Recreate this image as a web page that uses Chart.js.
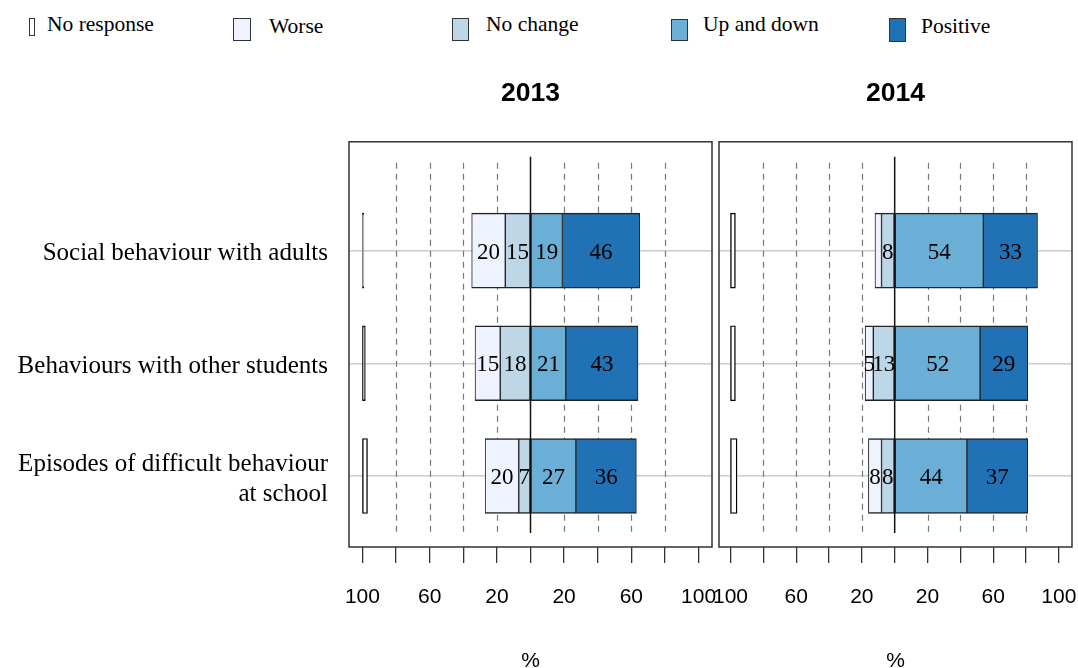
<!DOCTYPE html>
<html>
<head>
<meta charset="utf-8">
<script src="https://cdn.jsdelivr.net/npm/chart.js@4.4.1/dist/chart.umd.min.js"></script>
<style>
  html, body { margin: 0; padding: 0; background: #fff; overflow: hidden; }
  #wrap { position: relative; width: 1078px; height: 668px; overflow: hidden; }
  canvas { position: absolute; top: 0; }
  #c2013 { left: 0; }
  #c2014 { left: 700px; }
  .swatch { position: absolute; border: 1.5px solid #333; box-sizing: border-box; }
  .keyText { position: absolute; font-family: 'Liberation Serif', serif; font-size: 21.5px; line-height: 1; white-space: nowrap; color: #000; }
</style>
</head>
<body>
<div id="wrap">
  <div id="legend"></div>
  <canvas id="c2013" width="720" height="690"></canvas>
  <canvas id="c2014" width="378" height="690"></canvas>
</div>
<script>
const years = ['2013', '2014'];

// answer categories, in drawing order (left to right)
const categories = ['No response', 'Worse', 'No change', 'Up and down', 'Positive'];
const categoryColors = ['#ffffff', '#eff3ff', '#bdd7e7', '#6baed6', '#2171b5'];

const rowLabels = [
  'Social behaviour with adults',
  'Behaviours with other students',
  ['Episodes of difficult behaviour', 'at school']
];
const rowPositions = [1, 2, 3];

// percentages per row, 2013
const noResponse2013 = [0.8, 1.7, 3];
const worse2013 = [20, 15, 20];
const noChange2013 = [15, 18, 7];
const upDown2013 = [19, 21, 27];
const positive2013 = [46, 43, 36];

// percentages per row, 2014
const noResponse2014 = [3, 3, 4];
const worse2014 = [4, 5, 8];
const noChange2014 = [8, 13, 8];
const upDown2014 = [54, 52, 44];
const positive2014 = [33, 29, 37];

const xTicks = [-100, -80, -60, -40, -20, 0, 20, 40, 60, 80, 100];
const xTickLabels = ['100', '', '60', '', '20', '', '20', '', '60', '', '100'];
const dashedAt = [-80, -60, -40, -20, 20, 40, 60, 80];

// legend layout: swatch box and text position for each category
const legendLayout = [
  { x: 29, y: 18, w: 6, h: 18, tx: 47, ty: 13.5 },
  { x: 233, y: 18, w: 18, h: 23, tx: 269, ty: 16 },
  { x: 452, y: 18, w: 17, h: 23, tx: 486, ty: 13.5 },
  { x: 671, y: 19, w: 17, h: 22, tx: 703, ty: 13.5 },
  { x: 889, y: 18, w: 17, h: 24, tx: 921, ty: 16 }
];

const legendEl = document.getElementById('legend');
categories.forEach((name, i) => {
  const L = legendLayout[i];
  const sw = document.createElement('div');
  sw.className = 'swatch';
  Object.assign(sw.style, { left: L.x + 'px', top: L.y + 'px', width: L.w + 'px', height: L.h + 'px', background: categoryColors[i] });
  const tx = document.createElement('div');
  tx.className = 'keyText';
  Object.assign(tx.style, { left: L.tx + 'px', top: L.ty + 'px' });
  tx.textContent = name;
  legendEl.appendChild(sw);
  legendEl.appendChild(tx);
});

// diverging layout: negative answers left of zero, no response parked at -100
function segments(nr, worse, noChange, upDown, positive) {
  return [
    nr.map(v => [-100, -100 + v]),
    worse.map((v, i) => [-(v + noChange[i]), -noChange[i]]),
    noChange.map(v => [-v, 0]),
    upDown.map(v => [0, v]),
    positive.map((v, i) => [upDown[i], upDown[i] + v])
  ];
}

const panelFrame = {
  id: 'panelFrame',
  beforeDatasetsDraw(chart) {
    const { ctx, chartArea: a, scales: { x } } = chart;
    ctx.save();
    ctx.strokeStyle = '#777';
    ctx.lineWidth = 1.2;
    ctx.setLineDash([6, 5]);
    dashedAt.forEach(v => {
      const px = Math.round(x.getPixelForValue(v)) + 0.5;
      ctx.beginPath();
      ctx.moveTo(px, a.top + 21);
      ctx.lineTo(px, a.bottom - 14);
      ctx.stroke();
    });
    ctx.setLineDash([]);
    ctx.strokeStyle = '#111';
    ctx.lineWidth = 1.5;
    const zx = x.getPixelForValue(0);
    ctx.beginPath();
    ctx.moveTo(zx, a.top + 15);
    ctx.lineTo(zx, a.bottom - 14);
    ctx.stroke();
    ctx.restore();
  },
  afterDatasetsDraw(chart) {
    const { ctx } = chart;
    const values = chart.options.plugins.panelFrame.values;
    ctx.save();
    ctx.fillStyle = '#000';
    ctx.font = '23px "Liberation Serif"';
    ctx.textAlign = 'center';
    ctx.textBaseline = 'middle';
    // value labels for every category except "No response"
    for (let d = 1; d < chart.data.datasets.length; d++) {
      chart.getDatasetMeta(d).data.forEach((el, i) => {
        const v = values[d][i];
        if (v < 5) return;
        ctx.fillText(String(v), (el.x + el.base) / 2, el.y + 2);
      });
    }
    ctx.restore();
  },
  afterDraw(chart) {
    const { ctx, chartArea: a } = chart;
    ctx.save();
    ctx.strokeStyle = '#333';
    ctx.lineWidth = 1.5;
    ctx.strokeRect(a.left, a.top, a.width, a.height);
    ctx.restore();
  }
};

function makePanel(canvasId, year, values, opt) {
  const segs = segments(...values);
  const datasets = categories.map((name, c) => ({
    label: name,
    data: segs[c].map((s, i) => ({ x: s, y: rowPositions[i] })),
    backgroundColor: categoryColors[c],
    borderColor: c === 0 ? '#000' : '#222',
    borderWidth: c === 0 ? 1.4 : { top: 1.5, bottom: 1.5, left: 1, right: 1 },
    borderSkipped: false,
    barThickness: 75,
    grouped: false
  }));

  return new Chart(document.getElementById(canvasId), {
    type: 'bar',
    data: { datasets },
    plugins: [panelFrame],
    options: {
      responsive: false,
      animation: false,
      devicePixelRatio: 1,
      indexAxis: 'y',
      layout: { padding: { left: 0, right: opt.padRight, top: 0, bottom: 0 } },
      plugins: {
        legend: { display: false },
        tooltip: { enabled: false },
        title: {
          display: true,
          text: year,
          fullSize: false,
          color: '#000',
          font: { family: 'Liberation Sans', size: 26.5, weight: 'bold' },
          padding: { top: 78, bottom: 32 }
        },
        panelFrame: { values }
      },
      scales: {
        x: {
          type: 'linear',
          min: opt.xMin,
          max: opt.xMax,
          afterBuildTicks: s => { s.ticks = xTicks.map(v => ({ value: v })); },
          afterFit: s => { s.height = 143; s.paddingLeft = 0; s.paddingRight = 0; },
          border: { display: false },
          grid: { drawOnChartArea: false, drawTicks: true, tickLength: 16, color: '#333', lineWidth: 1.3 },
          ticks: {
            autoSkip: false,
            maxRotation: 0,
            minRotation: 0,
            padding: 22,
            color: '#000',
            font: { family: 'Liberation Sans', size: 21 },
            callback: (v, i) => xTickLabels[i]
          },
          title: {
            display: true,
            text: '%',
            color: '#000',
            font: { family: 'Liberation Sans', size: 21 },
            padding: { top: 0, bottom: 16 }
          }
        },
        y: {
          type: 'linear',
          reverse: true,
          offset: false,
          min: 0.035,
          max: 3.63,
          afterBuildTicks: s => { s.ticks = rowPositions.map(v => ({ value: v })); },
          afterFit: s => { s.width = opt.yWidth; s.paddingTop = 0; s.paddingBottom = 0; },
          border: { display: false },
          grid: { offset: false, drawTicks: false, color: '#cccccc', lineWidth: 1.5 },
          ticks: {
            display: opt.showRows,
            autoSkip: false,
            padding: 21,
            labelOffset: 3,
            color: '#000',
            font: { family: 'Liberation Serif', size: 25, lineHeight: 1.2 },
            callback: (v, i) => rowLabels[i]
          }
        }
      }
    }
  });
}

makePanel('c2013', years[0],
  [noResponse2013, worse2013, noChange2013, upDown2013, positive2013],
  { xMin: -108, xMax: 108, yWidth: 349, padRight: 8, showRows: true });

makePanel('c2014', years[1],
  [noResponse2014, worse2014, noChange2014, upDown2014, positive2014],
  { xMin: -107, xMax: 108, yWidth: 19, padRight: 6, showRows: false });
</script>
</body>
</html>
